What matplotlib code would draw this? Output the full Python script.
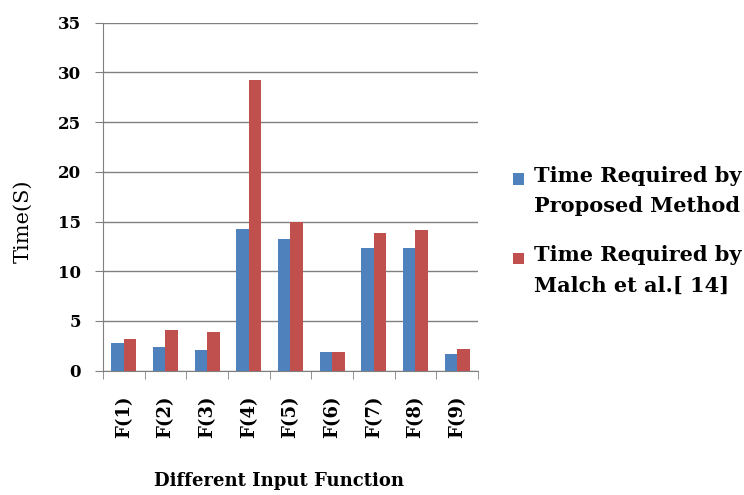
import matplotlib
matplotlib.use("Agg")
import matplotlib.pyplot as plt
import matplotlib.patches as mpatches
from matplotlib.legend_handler import HandlerPatch
import numpy as np

categories = ["F(1)", "F(2)", "F(3)", "F(4)", "F(5)", "F(6)", "F(7)", "F(8)", "F(9)"]
proposed = [2.8, 2.4, 2.1, 14.3, 13.2, 1.9, 12.3, 12.3, 1.7]
malch = [3.2, 4.1, 3.9, 29.2, 15.0, 1.9, 13.8, 14.2, 2.2]
yticks = [0, 5, 10, 15, 20, 25, 30, 35]
series_labels = ["Time Required by\nProposed Method", "Time Required by\nMalch et al.[ 14]"]
colors = ["#4F81BD", "#C0504D"]

plt.rcParams['font.family'] = ['DejaVu Serif', 'Liberation Serif']

fig = plt.figure(figsize=(7.44, 4.95), dpi=100)
ax = fig.add_axes([0.1384, 0.2511, 0.504, 0.7031])

x = np.arange(len(categories))
w = 0.3
ax.bar(x - w/2, proposed, w, color=colors[0], zorder=3)
ax.bar(x + w/2, malch, w, color=colors[1], zorder=3)

ax.set_xlim(-0.5, len(categories) - 0.5)
ax.set_ylim(0, 35)
ax.set_yticks(yticks)
ax.set_yticklabels([str(v) for v in yticks], fontsize=12, fontweight='bold')
ax.yaxis.grid(True, color="#808080", linewidth=1.0, zorder=0)
ax.set_xticks(x)
ax.set_xticklabels(categories, rotation=90, fontsize=13, fontweight='bold')
ax.set_xticks(np.arange(len(categories) + 1) - 0.5, minor=True)
ax.tick_params(axis='x', which='major', length=0, pad=18)
ax.tick_params(axis='x', which='minor', length=6, color="#808080", direction='out')
ax.tick_params(axis='y', length=6, color="#808080", direction='out', pad=10)

for s in ['top', 'right']:
    ax.spines[s].set_visible(False)
for s in ['left', 'bottom']:
    ax.spines[s].set_color("#808080")

ax.set_ylabel("Time(S)", fontsize=15, va='center')
ax.yaxis.set_label_coords(-0.213, 0.43)
ax.set_xlabel("Different Input Function", fontsize=13, fontweight='bold', va='center')
ax.xaxis.set_label_coords(0.47, -0.318)


class TopSquare(HandlerPatch):
    def create_artists(self, legend, orig_handle, xdescent, ydescent,
                       width, height, fontsize, trans):
        p = mpatches.Rectangle((-xdescent, -ydescent + 0.6 * fontsize), width, height,
                               facecolor=orig_handle.get_facecolor(),
                               edgecolor='none', transform=trans)
        return [p]


handles = [mpatches.Patch(facecolor=c, label=l) for c, l in zip(colors, series_labels)]
leg = fig.legend(handles=handles, loc='center left', bbox_to_anchor=(0.69, 0.534),
                 frameon=False, prop={'size': 15, 'weight': 'bold'},
                 handlelength=0.5, handleheight=0.5, handletextpad=0.5,
                 labelspacing=1.4, borderpad=0, borderaxespad=0,
                 handler_map={mpatches.Patch: TopSquare()})
for t in leg.get_texts():
    t.set_linespacing(1.65)

fig.savefig("out.png", dpi=100)
